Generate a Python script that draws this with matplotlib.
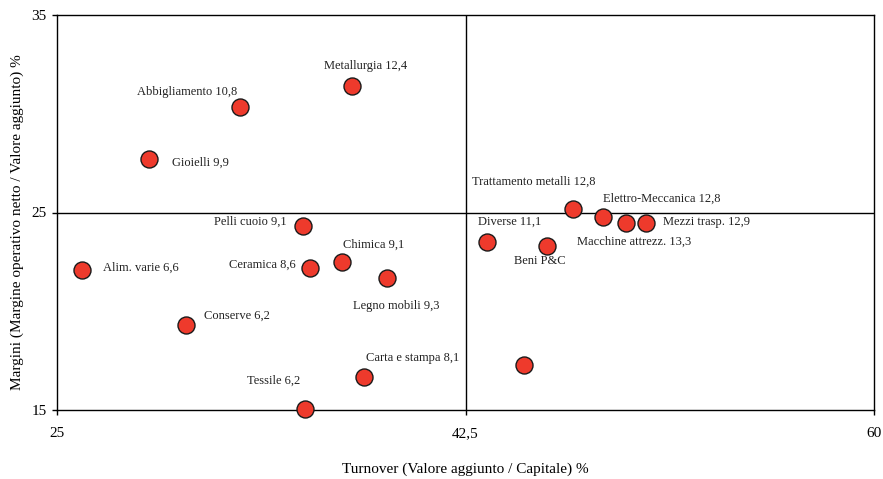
import matplotlib
matplotlib.use("Agg")
import matplotlib.pyplot as plt

plt.rcParams['font.family'] = ['Liberation Serif', 'DejaVu Serif']

names = ["Metallurgia 12,4", "Abbigliamento 10,8", "Gioielli 9,9", "Pelli cuoio 9,1",
         "Chimica 9,1", "Ceramica 8,6", "Legno mobili 9,3", "Alim. varie 6,6",
         "Conserve 6,2", "Carta e stampa 8,1", "Tessile 6,2", "Diverse 11,1",
         "Beni P&C", "Trattamento metalli 12,8", "Elettro-Meccanica 12,8",
         "Macchine attrezz. 13,3", "Mezzi trasp. 12,9", ""]
turnover = [37.64, 32.84, 28.94, 35.54, 37.21, 35.84, 39.14, 26.07, 30.53, 38.15,
            35.63, 43.42, 45.99, 47.11, 48.39, 49.38, 50.24, 45.01]
margini = [31.40, 30.34, 27.71, 24.32, 22.49, 22.19, 21.68, 22.09, 19.30, 16.67,
           15.05, 23.51, 23.30, 25.18, 24.77, 24.47, 24.47, 17.28]

x_ticks = [25, 42.5, 60]
x_ticklabels = ["25", "42,5", "60"]
y_ticks = [15, 25, 35]
y_ticklabels = ["15", "25", "35"]

# label offsets in pixels (dx, dy) and horizontal alignment
offsets = [(14, 20, 'center'), (-53, 15, 'center'), (23, -4, 'left'), (-16, 4, 'right'),
           (32, 17, 'center'), (-14, 3, 'right'), (9, -28, 'center'), (21, 2, 'left'),
           (18, 9, 'left'), (49, 19, 'center'), (-32, 28, 'center'), (23, 20, 'center'),
           (-7, -15, 'center'), (-39, 27, 'center'), (59, 18, 'center'),
           (8, -19, 'center'), (17, 1, 'left'), (0, 0, 'center')]

fig = plt.figure(figsize=(8.83, 4.79), dpi=100)
ax = fig.add_axes([57/883, 1-410/479, 817/883, 395/479])
ax.set_xlim(25, 60)
ax.set_ylim(15, 35)

ax.axvline(42.5, color='black', lw=1.0, zorder=1)
ax.axhline(25, color='black', lw=1.0, zorder=1)

ax.scatter(turnover, margini, s=150, facecolor='#ee3a2c', edgecolor='#1a1a1a',
           linewidth=1.0, zorder=3, clip_on=False)

for n, x, y, (dx, dy, ha) in zip(names, turnover, margini, offsets):
    if n:
        ax.annotate(n, (x, y), xytext=(dx, dy), textcoords='offset pixels',
                    ha=ha, va='center', fontsize=9, color='#222222')

ax.set_xticks(x_ticks)
ax.set_xticklabels(x_ticklabels)
ax.set_yticks(y_ticks)
ax.set_yticklabels(y_ticklabels)
ax.tick_params(direction='out', length=3.5, width=1, labelsize=11)
ax.tick_params(axis='x', pad=9)
ax.tick_params(axis='y', pad=4)
for s in ax.spines.values():
    s.set_linewidth(1.0)

ax.set_xlabel("Turnover (Valore aggiunto / Capitale) %", fontsize=11, labelpad=16)
ax.set_ylabel("Margini (Margine operativo netto / Valore aggiunto) %", fontsize=11)
ax.yaxis.set_label_coords(-0.040, 0.476)

fig.savefig("out.png", dpi=100)
